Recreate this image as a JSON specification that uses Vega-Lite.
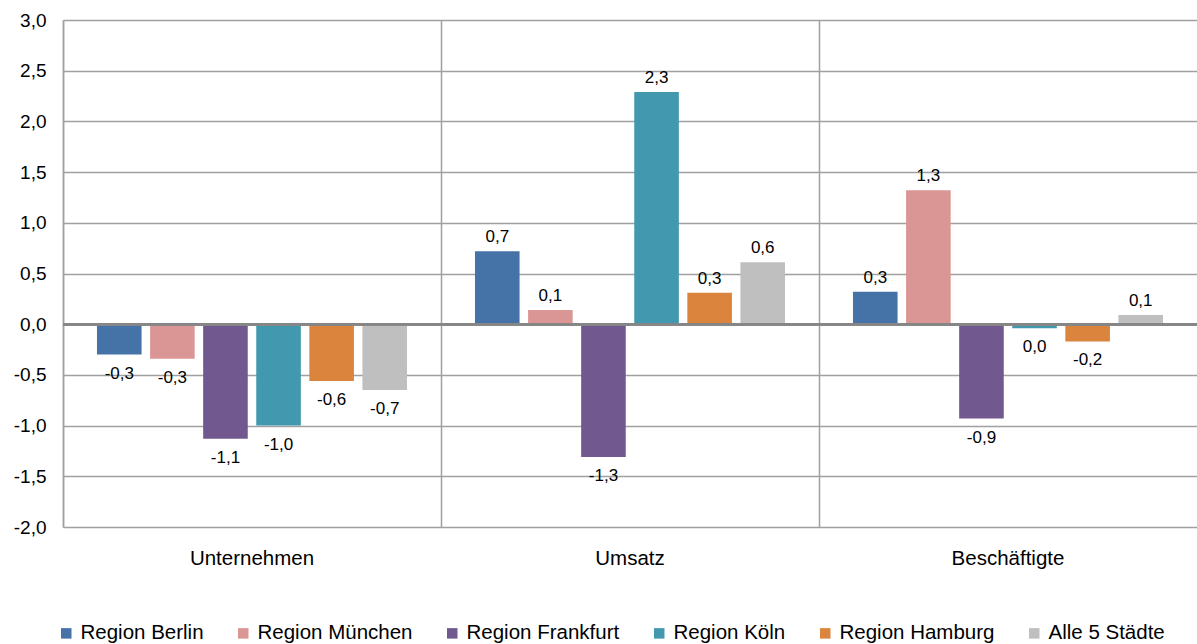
{
  "$schema": "https://vega.github.io/schema/vega-lite/v6.json",
  "width": 1134,
  "height": 507,
  "autosize": {"type": "none"},
  "padding": {"left": 63, "top": 20, "right": 0, "bottom": 117},
  "background": "white",
  "config": {
    "locale": {"number": {"decimal": ",", "thousands": ".", "grouping": [3], "currency": ["", " €"], "minus": "-"}},
    "view": {"stroke": null},
    "font": "Liberation Sans"
  },
  "data": {
    "values": [
      {"kategorie": "Unternehmen", "region": "Region Berlin", "wert": -0.30},
      {"kategorie": "Unternehmen", "region": "Region München", "wert": -0.34},
      {"kategorie": "Unternehmen", "region": "Region Frankfurt", "wert": -1.13},
      {"kategorie": "Unternehmen", "region": "Region Köln", "wert": -1.00},
      {"kategorie": "Unternehmen", "region": "Region Hamburg", "wert": -0.56},
      {"kategorie": "Unternehmen", "region": "Alle 5 Städte", "wert": -0.65},
      {"kategorie": "Umsatz", "region": "Region Berlin", "wert": 0.72},
      {"kategorie": "Umsatz", "region": "Region München", "wert": 0.14},
      {"kategorie": "Umsatz", "region": "Region Frankfurt", "wert": -1.31},
      {"kategorie": "Umsatz", "region": "Region Köln", "wert": 2.29},
      {"kategorie": "Umsatz", "region": "Region Hamburg", "wert": 0.31},
      {"kategorie": "Umsatz", "region": "Alle 5 Städte", "wert": 0.61},
      {"kategorie": "Beschäftigte", "region": "Region Berlin", "wert": 0.32},
      {"kategorie": "Beschäftigte", "region": "Region München", "wert": 1.32},
      {"kategorie": "Beschäftigte", "region": "Region Frankfurt", "wert": -0.93},
      {"kategorie": "Beschäftigte", "region": "Region Köln", "wert": -0.04},
      {"kategorie": "Beschäftigte", "region": "Region Hamburg", "wert": -0.17},
      {"kategorie": "Beschäftigte", "region": "Alle 5 Städte", "wert": 0.09}
    ]
  },
  "encoding": {
    "x": {
      "field": "kategorie",
      "type": "nominal",
      "sort": ["Unternehmen", "Umsatz", "Beschäftigte"],
      "scale": {"paddingInner": 0, "paddingOuter": 0},
      "axis": {
        "title": null,
        "labelAngle": 0,
        "labelFontSize": 20.5,
        "labelColor": "#000000",
        "labelPadding": 21,
        "ticks": false,
        "domain": false,
        "grid": true,
        "bandPosition": 0,
        "gridColor": "#a0a0a0",
        "gridWidth": 1.5
      }
    },
    "xOffset": {
      "field": "region",
      "type": "nominal",
      "sort": ["Region Berlin", "Region München", "Region Frankfurt", "Region Köln", "Region Hamburg", "Alle 5 Städte"],
      "scale": {"paddingInner": 0.16, "paddingOuter": 0.64}
    },
    "y": {
      "field": "wert",
      "type": "quantitative",
      "scale": {"domain": [-2, 3], "nice": false},
      "axis": {
        "title": null,
        "values": [-2, -1.5, -1, -0.5, 0, 0.5, 1, 1.5, 2, 2.5, 3],
        "format": ".1f",
        "labelFontSize": 19,
        "labelColor": "#000000",
        "labelPadding": 17,
        "ticks": false,
        "domain": true,
        "domainColor": "#a0a0a0",
        "domainWidth": 1.5,
        "grid": true,
        "gridColor": "#a0a0a0",
        "gridWidth": 1.5
      }
    }
  },
  "layer": [
    {
      "mark": {"type": "bar"},
      "encoding": {
        "color": {
          "field": "region",
          "type": "nominal",
          "sort": ["Region Berlin", "Region München", "Region Frankfurt", "Region Köln", "Region Hamburg", "Alle 5 Städte"],
          "scale": {
            "domain": ["Region Berlin", "Region München", "Region Frankfurt", "Region Köln", "Region Hamburg", "Alle 5 Städte"],
            "range": ["#4572A7", "#DA9694", "#71588F", "#4198AF", "#DB843D", "#BFBFBF"]
          },
          "legend": {
            "title": null,
            "orient": "none",
            "direction": "horizontal",
            "legendX": -7,
            "legendY": 603,
            "symbolType": "square",
            "symbolSize": 110,
            "symbolStrokeWidth": 0,
            "labelFontSize": 20.5,
            "labelColor": "#000000",
            "labelOffset": 4,
            "columnPadding": 29
          }
        }
      }
    },
    {
      "mark": {"type": "rule", "color": "#868686", "strokeWidth": 2},
      "encoding": {"y": {"datum": 0}, "x": {"value": 0}, "x2": {"value": 1134}, "xOffset": null}
    },
    {
      "transform": [{"filter": "datum.wert >= 0"}],
      "mark": {"type": "text", "baseline": "bottom", "dy": -5, "fontSize": 17, "color": "#000000"},
      "encoding": {"text": {"field": "wert", "type": "quantitative", "format": ".1f"}}
    },
    {
      "transform": [{"filter": "datum.wert < 0"}],
      "mark": {"type": "text", "baseline": "top", "dy": 11, "fontSize": 17, "color": "#000000"},
      "encoding": {"text": {"field": "wert", "type": "quantitative", "format": ".1f"}}
    }
  ]
}
